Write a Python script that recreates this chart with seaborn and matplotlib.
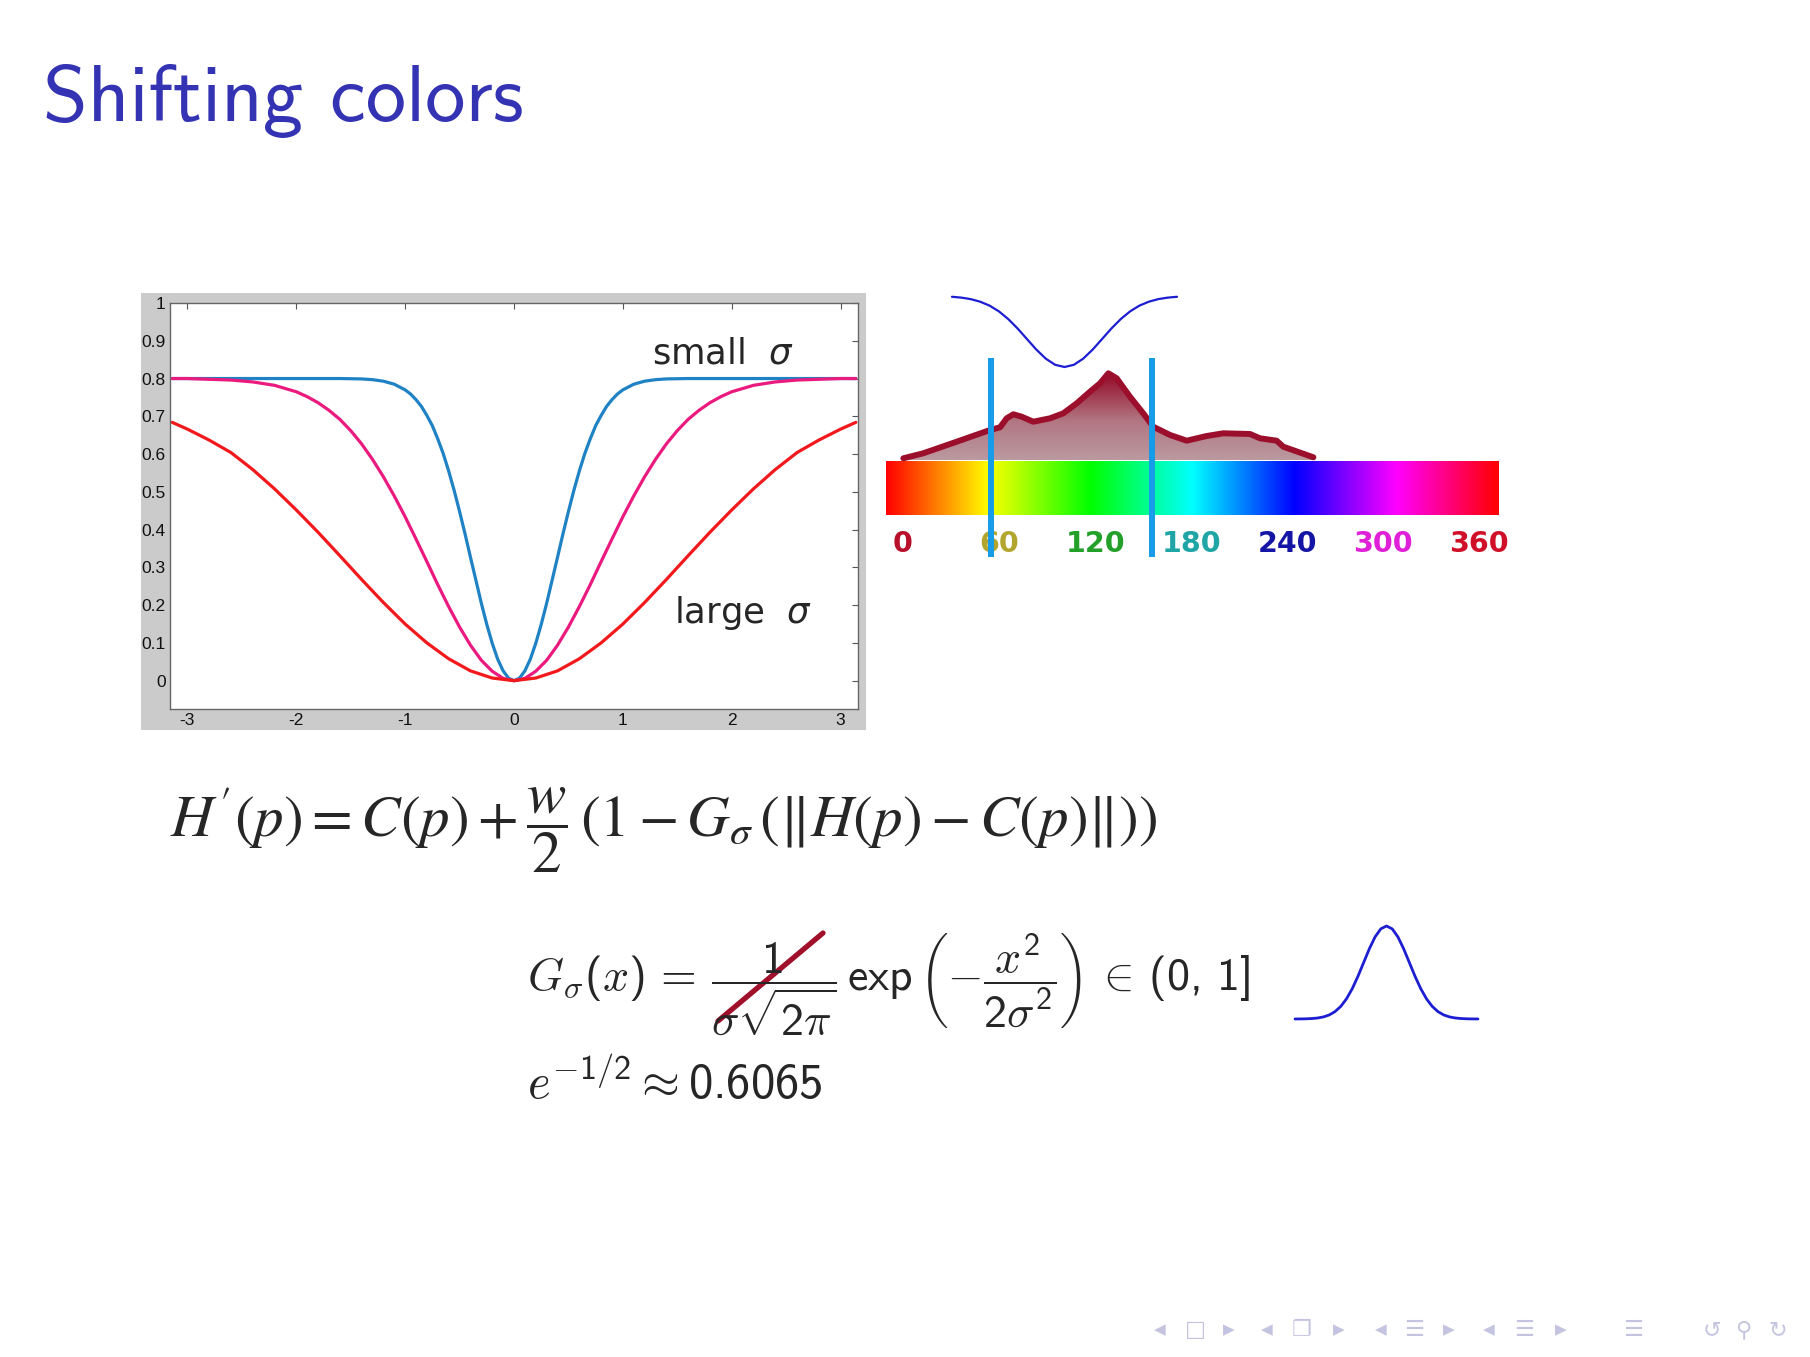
import colorsys
import numpy as np
import pandas as pd
import matplotlib
matplotlib.use("Agg")
import matplotlib.pyplot as plt
import seaborn as sns
from matplotlib.patches import Rectangle
from matplotlib.lines import Line2D
from matplotlib.colors import LinearSegmentedColormap

W, H = 1810, 1357

# --- data ---
# small sigma (blue), sampled densely around the steep part
small_x = [-3.14, -2.6, -2.0, -1.6, -1.4, -1.3, -1.2, -1.1, -1.0, -0.95, -0.9, -0.85,
           -0.8, -0.75, -0.7, -0.65, -0.6, -0.55, -0.5, -0.45, -0.4, -0.35, -0.3, -0.25,
           -0.2, -0.15, -0.1, -0.05, 0.0, 0.05, 0.1, 0.15, 0.2, 0.25, 0.3, 0.35, 0.4,
           0.45, 0.5, 0.55, 0.6, 0.65, 0.7, 0.75, 0.8, 0.85, 0.9, 0.95, 1.0, 1.1, 1.2,
           1.3, 1.4, 1.6, 2.0, 2.6, 3.14]
small_sigma = [0.80, 0.80, 0.80, 0.80, 0.799, 0.797, 0.793, 0.785, 0.770, 0.759, 0.744,
               0.726, 0.702, 0.675, 0.640, 0.601, 0.555, 0.504, 0.448, 0.389, 0.327,
               0.266, 0.205, 0.149, 0.099, 0.057, 0.026, 0.0066, 0.0, 0.0066, 0.026,
               0.057, 0.099, 0.149, 0.205, 0.266, 0.327, 0.389, 0.448, 0.504, 0.555,
               0.601, 0.640, 0.675, 0.702, 0.726, 0.744, 0.759, 0.770, 0.785, 0.793,
               0.797, 0.799, 0.80, 0.80, 0.80, 0.80]
# medium sigma (magenta)
mid_x = [-3.14, -3.0, -2.8, -2.6, -2.4, -2.2, -2.0, -1.9, -1.8, -1.7, -1.6, -1.5, -1.4,
         -1.3, -1.2, -1.1, -1.0, -0.9, -0.8, -0.7, -0.6, -0.5, -0.4, -0.3, -0.2, -0.1,
         0.0, 0.1, 0.2, 0.3, 0.4, 0.5, 0.6, 0.7, 0.8, 0.9, 1.0, 1.1, 1.2, 1.3, 1.4, 1.5,
         1.6, 1.7, 1.8, 1.9, 2.0, 2.2, 2.4, 2.6, 2.8, 3.0, 3.14]
mid_sigma = [0.80, 0.80, 0.798, 0.796, 0.791, 0.782, 0.765, 0.752, 0.736, 0.716, 0.692,
             0.662, 0.627, 0.586, 0.540, 0.489, 0.434, 0.375, 0.315, 0.254, 0.196, 0.142,
             0.094, 0.054, 0.025, 0.006, 0.0, 0.006, 0.025, 0.054, 0.094, 0.142, 0.196,
             0.254, 0.315, 0.375, 0.434, 0.489, 0.540, 0.586, 0.627, 0.662, 0.692, 0.716,
             0.736, 0.752, 0.765, 0.782, 0.791, 0.796, 0.798, 0.80, 0.80]
# large sigma (red)
large_x = [-3.14, -3.0, -2.8, -2.6, -2.4, -2.2, -2.0, -1.8, -1.6, -1.4, -1.2, -1.0, -0.8,
           -0.6, -0.4, -0.2, 0.0, 0.2, 0.4, 0.6, 0.8, 1.0, 1.2, 1.4, 1.6, 1.8, 2.0, 2.2,
           2.4, 2.6, 2.8, 3.0, 3.14]
large_sigma = [0.684, 0.666, 0.637, 0.604, 0.559, 0.508, 0.452, 0.393, 0.331, 0.268,
               0.207, 0.150, 0.100, 0.058, 0.026, 0.007, 0.0, 0.007, 0.026, 0.058, 0.100,
               0.150, 0.207, 0.268, 0.331, 0.393, 0.452, 0.508, 0.559, 0.604, 0.637,
               0.666, 0.684]
x_ticks = [-3, -2, -1, 0, 1, 2, 3]
y_ticks = [0, 0.1, 0.2, 0.3, 0.4, 0.5, 0.6, 0.7, 0.8, 0.9, 1]
y_tick_labels = ["0", "0.1", "0.2", "0.3", "0.4", "0.5", "0.6", "0.7", "0.8", "0.9", "1"]

# hue histogram (hue in degrees, relative count)
hist_hue = [10.2, 21.9, 41.6, 61.2, 67.1, 71.0, 74.9, 79.8, 86.6, 96.5, 104.3, 112.2,
            120.0, 125.9, 130.8, 135.7, 143.5, 151.3, 157.2, 167.1, 176.9, 188.6,
            198.4, 214.1, 220.0, 229.8, 233.7, 251.4]
hist_count = [1.7, 6.7, 18.3, 30.0, 32.7, 41.7, 45.7, 43.3, 38.3, 41.7, 46.7, 56.7,
              68.3, 76.7, 86.7, 81.7, 63.3, 46.7, 33.3, 25.0, 19.3, 24.0, 26.7, 26.0,
              21.7, 19.3, 13.3, 2.7]
window_hues = [61.5, 156.6]
hue_labels = ["0", "60", "120", "180", "240", "300", "360"]
hue_label_colors = ["#b8102a", "#b3a62e", "#22a02a", "#1fa5a5", "#1515a5", "#e020d8", "#d01028"]

# small sketches: inverted gaussian above the hue bar, gaussian next to formula
dip_t = [-3.0, -2.75, -2.5, -2.25, -2.0, -1.75, -1.5, -1.25, -1.0, -0.75, -0.5, -0.25, 0.0,
         0.25, 0.5, 0.75, 1.0, 1.25, 1.5, 1.75, 2.0, 2.25, 2.5, 2.75, 3.0]
dip_vals = [0.989, 0.977, 0.956, 0.920, 0.865, 0.784, 0.675, 0.542, 0.393, 0.245, 0.118,
            0.031, 0.0, 0.031, 0.118, 0.245, 0.393, 0.542, 0.675, 0.784, 0.865, 0.920,
            0.956, 0.977, 0.989]
bump_t = [-4.0, -3.75, -3.5, -3.25, -3.0, -2.75, -2.5, -2.25, -2.0, -1.75, -1.5, -1.25,
          -1.0, -0.75, -0.5, -0.25, 0.0, 0.25, 0.5, 0.75, 1.0, 1.25, 1.5, 1.75, 2.0,
          2.25, 2.5, 2.75, 3.0, 3.25, 3.5, 3.75, 4.0]
bump_vals = [0.0003, 0.0009, 0.0022, 0.0051, 0.0111, 0.0228, 0.0439, 0.0796, 0.1353,
             0.2163, 0.3247, 0.4578, 0.6065, 0.7548, 0.8825, 0.9692, 1.0, 0.9692, 0.8825,
             0.7548, 0.6065, 0.4578, 0.3247, 0.2163, 0.1353, 0.0796, 0.0439, 0.0228,
             0.0111, 0.0051, 0.0022, 0.0009, 0.0003]


def rect(x0, y0, x1, y1):
    # pixel box (top-left origin) -> figure fraction
    return [x0 / W, 1 - y1 / H, (x1 - x0) / W, (y1 - y0) / H]


sns.set_style("white")
plt.rcParams["font.family"] = ["DejaVu Sans"]
# beamer-like maths: sans digits, CM italic letters
plt.rcParams["mathtext.rm"] = "cmss10"
plt.rcParams["mathtext.sf"] = "cmss10"
plt.rcParams["mathtext.it"] = "cmmi10"
plt.rcParams["mathtext.fallback"] = "cm"

fig = plt.figure(figsize=(W / 100, H / 100), dpi=100)
fig.patch.set_facecolor("white")

# title
fig.text(43 / W, 1 - 121 / H, "Shifting colors", family="cmss10", fontsize=58,
         color="#3333b3", va="baseline", ha="left")

# --- main MATLAB-like plot ---
fig.patches.append(Rectangle((141 / W, 1 - 730 / H), (866 - 141) / W, (730 - 293) / H,
                             transform=fig.transFigure, facecolor="#cbcbcb",
                             edgecolor="none", zorder=-10))
ax = fig.add_axes(rect(170, 303, 858, 709))
ax.set_facecolor("white")
df = pd.DataFrame({
    "x": small_x + mid_x + large_x,
    "G": small_sigma + mid_sigma + large_sigma,
    "curve": ["small"] * len(small_x) + ["mid"] * len(mid_x) + ["large"] * len(large_x),
})
sns.lineplot(data=df, x="x", y="G", hue="curve",
             palette={"small": "#1f82c4", "mid": "#ea1a7f", "large": "#f2191c"},
             linewidth=2.3, legend=False, ax=ax)
ax.set_xlim(-3.16, 3.16)
ax.set_ylim(-0.075, 1.0)
ax.set_xticks(x_ticks)
ax.set_xticklabels([str(t) for t in x_ticks])
ax.set_yticks(y_ticks)
ax.set_yticklabels(y_tick_labels)
ax.set_xlabel("")
ax.set_ylabel("")
ax.tick_params(direction="in", top=True, right=True, length=4, width=0.8,
               color="#555555", labelsize=12.5, pad=3, labelcolor="#111111")
for lab in ax.get_xticklabels() + ax.get_yticklabels():
    lab.set_family("Liberation Sans")
for sp in ax.spines.values():
    sp.set_color("#666666")
    sp.set_linewidth(1.0)
ax.text(1.27, 0.839, r"small  $\sigma$", fontsize=25.5, family="DejaVu Sans",
        math_fontfamily="dejavusans", va="baseline")
ax.text(1.47, 0.154, r"large  $\sigma$", fontsize=25.5, family="DejaVu Sans",
        math_fontfamily="dejavusans", va="baseline")

# --- hue bar with histogram ---
ax2 = fig.add_axes(rect(886, 355, 1498, 560))
hues = np.linspace(0, 1, 720)
bar = np.array([[colorsys.hsv_to_rgb(h, 1, 1) for h in hues]])
ax2.imshow(bar, extent=[0, 360, -55, -1.7], aspect="auto", zorder=1)

poly = ax2.fill_between(hist_hue, 0, hist_count, color="none", lw=0)
fill_cmap = LinearSegmentedColormap.from_list(
    "histfill", [(0, "#bb9aa0"), (0.45, "#b27682"), (1.0, "#930826")])
grad = np.linspace(0, 1, 256)[:, None]
im = ax2.imshow(grad, extent=[0, 360, 0, max(hist_count)], origin="lower",
                aspect="auto", cmap=fill_cmap, zorder=2)
im.set_clip_path(poly.get_paths()[0], transform=ax2.transData)
sns.lineplot(x=hist_hue, y=hist_count, color="#9b0f2d", linewidth=4.3, ax=ax2, zorder=3)
ax2.lines[-1].set_solid_capstyle("round")
ax2.lines[-1].set_solid_joinstyle("round")

for pos, lab, col in zip(np.linspace(10, 349, len(hue_labels)), hue_labels, hue_label_colors):
    ax2.text(pos, -84, lab, ha="center", va="center", fontsize=20.5,
             fontweight="bold", color=col, zorder=4)
ax2.vlines(window_hues, -97, 102, color="#169ce8", linewidth=4.3, zorder=5)
ax2.set_xlim(0, 360)
ax2.set_ylim(-100, 105)
ax2.axis("off")

# inverted gaussian above the histogram
ax3 = fig.add_axes(rect(952, 296, 1177, 367))
sns.lineplot(x=dip_t, y=dip_vals, color="#1d1dd2", linewidth=1.6, ax=ax3)
ax3.set_xlim(-3, 3)
ax3.set_ylim(0, 1)
ax3.axis("off")
for ln in ax3.lines:
    ln.set_clip_on(False)

# gaussian bump next to G_sigma
ax4 = fig.add_axes(rect(1295, 926, 1478, 1019))
sns.lineplot(x=bump_t, y=bump_vals, color="#1d1dd2", linewidth=2.0, ax=ax4)
ax4.set_xlim(-4, 4)
ax4.set_ylim(0, 1)
ax4.axis("off")
for ln in ax4.lines:
    ln.set_clip_on(False)

# --- formulas ---
fig.text(170 / W, 1 - 837 / H,
         r"$H'(p) = C(p) + \dfrac{w}{2}\,(1 - G_{\sigma}\,(\Vert H(p) - C(p)\Vert))$",
         fontsize=42.5, math_fontfamily="stix", va="baseline", ha="left")
fig.text(527 / W, 1 - 991 / H,
         r"$G_\sigma(x)\,=\,\dfrac{1}{\sigma\sqrt{2\pi}}\,\mathsf{exp}\,"
         r"\left(-\dfrac{x^{2}}{2\sigma^{2}}\right)\,\in\,(0,\,1]$",
         fontsize=33, math_fontfamily="custom", va="baseline", ha="left")
fig.text(527 / W, 1 - 1099 / H, r"$e^{-1/2}\approx 0.6065$",
         fontsize=35, math_fontfamily="custom", va="baseline", ha="left")
fig.lines.append(Line2D([718 / W, 823 / W], [1 - 1021 / H, 1 - 933 / H],
                        transform=fig.transFigure, color="#a0102a", linewidth=3.8))

# --- beamer navigation symbols ---
nav = [(1160, "\u25c0"), (1195, "\u25a1"), (1229, "\u25b6"), (1267, "\u25c0"),
       (1302, "\u2750"), (1339, "\u25b6"), (1381, "\u25c0"), (1414, "\u2630"),
       (1449, "\u25b6"), (1489, "\u25c0"), (1524, "\u2630"), (1561, "\u25b6"),
       (1633, "\u2630"), (1712, "\u21ba"), (1743, "\u26b2"), (1778, "\u21bb")]
for px, sym in nav:
    fs = 11 if sym in ("\u25c0", "\u25b6") else 16
    fig.text(px / W, 1 - 1330 / H, sym, fontsize=fs, color="#c4c4e0",
             ha="center", va="center", family=["DejaVu Sans", "Noto Sans"])

fig.savefig("out.png", dpi=100)
